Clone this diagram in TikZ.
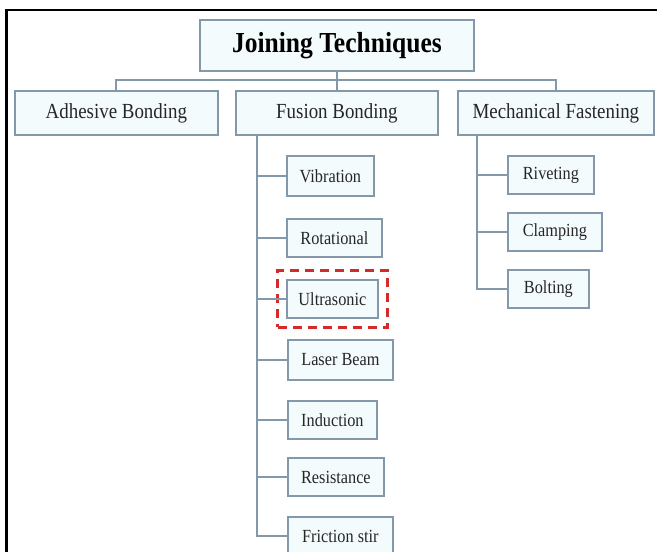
\documentclass[tikz,border=0pt]{standalone}
\usepackage{fontspec}
\setmainfont{Liberation Serif}
\newfontfamily\condfont[FakeStretch=0.88]{Liberation Serif}
\usetikzlibrary{fit}
\definecolor{bordercol}{HTML}{8398A8}
\definecolor{fillcol}{HTML}{F4FBFD}
\definecolor{textcol}{HTML}{262626}
\definecolor{dashred}{HTML}{D42A2A}
\tikzset{
  box/.style={draw=bordercol, fill=fillcol, line width=1.8pt, inner sep=0pt, text=textcol, anchor=west},
  titlebox/.style={box, font=\condfont\fontsize{29}{31}\selectfont\bfseries, text=black},
  levelbox/.style={box, font=\condfont\fontsize{21.5}{24}\selectfont},
  leafbox/.style={box, font=\condfont\fontsize{18.5}{21}\selectfont},
  link/.style={draw=bordercol, line width=2pt},
  hilite/.style={draw=dashred, line width=2.6pt, dash pattern=on 9pt off 6pt, inner sep=8.5pt}
}
\begin{document}
\begin{tikzpicture}[x=1pt,y=-1pt]
\useasboundingbox (0,0) rectangle (657,552);
\fill[white] (0,0) rectangle (657,552);
% frame
\draw[black, line width=2.2pt] (6,10) -- (657,10);
\draw[black, line width=2.2pt] (6.5,9) -- (6.5,552);

% nodes
\node[titlebox, minimum width=274pt, minimum height=51pt] (jt) at (199,45.5) {Joining Techniques};
\node[levelbox, minimum width=203pt, minimum height=44pt] (ab) at (14,113) {Adhesive Bonding};
\node[levelbox, minimum width=202pt, minimum height=44pt] (fb) at (235,113) {Fusion Bonding};
\node[levelbox, minimum width=196pt, minimum height=44pt] (mf) at (457,113) {Mechanical Fastening};

\node[leafbox, minimum width=87pt, minimum height=40pt] (vib) at (286,176) {Vibration};
\node[leafbox, minimum width=95pt, minimum height=38pt] (rot) at (286,238) {Rotational};
\node[leafbox, minimum width=91pt, minimum height=38pt] (ult) at (286,299) {Ultrasonic};
\node[leafbox, minimum width=105pt, minimum height=40pt] (las) at (287,360) {Laser Beam};
\node[leafbox, minimum width=89pt, minimum height=38pt] (ind) at (287,420) {Induction};
\node[leafbox, minimum width=96pt, minimum height=38pt] (res) at (287,477) {Resistance};
\node[leafbox, minimum width=105pt, minimum height=38pt] (fri) at (287,536) {Friction stir};

\node[leafbox, minimum width=86pt, minimum height=38pt] (riv) at (507,175) {Riveting};
\node[leafbox, minimum width=94pt, minimum height=38pt] (cla) at (507,232) {Clamping};
\node[leafbox, minimum width=81pt, minimum height=38pt] (bol) at (507,289) {Bolting};

\node[hilite, fit=(ult)] (hl) {};

% connectors
\coordinate (bus) at (336,80);
\coordinate (ftop) at (257,135);
\coordinate (mtop) at (477,135);
\draw[link] (ab.north) |- (bus) -| (mf.north);
\draw[link] (jt.south) -- (fb.north);
\draw[link] (ftop) |- (fri.west);
\foreach \n in {vib,rot,ult,las,ind,res}{
  \draw[link] (ftop |- \n.west) -- (\n.west);
}
\draw[link] (mtop) |- (bol.west);
\draw[link] (mtop |- riv.west) -- (riv.west);
\draw[link] (mtop |- cla.west) -- (cla.west);
\end{tikzpicture}
\end{document}
